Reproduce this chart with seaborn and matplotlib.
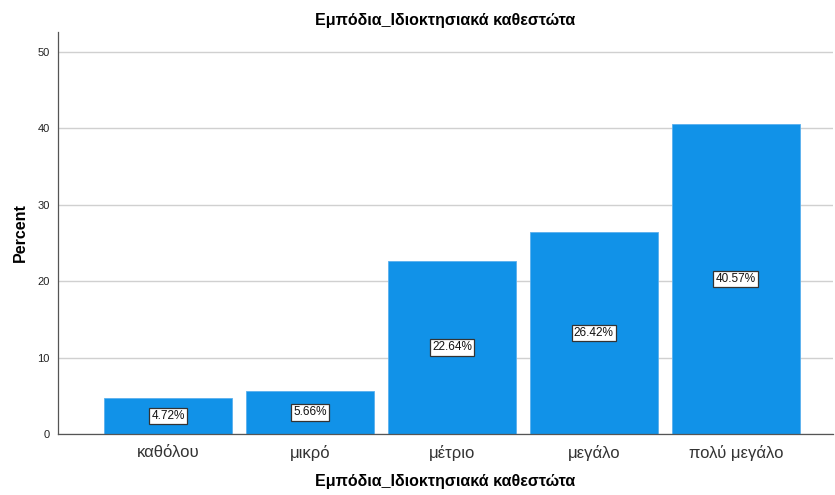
import matplotlib
matplotlib.use("Agg")
import matplotlib.pyplot as plt
import seaborn as sns
import pandas as pd

categories = ["καθόλου", "μικρό", "μέτριο", "μεγάλο", "πολύ μεγάλο"]
percents = [4.72, 5.66, 22.64, 26.42, 40.57]
title = "Εμπόδια_Ιδιοκτησιακά καθεστώτα"
yticks = [0, 10, 20, 30, 40, 50]

sns.set_style("white")
plt.rcParams['font.family'] = ['Liberation Sans', 'DejaVu Sans']
plt.rcParams['text.color'] = 'black'
plt.rcParams['axes.labelcolor'] = 'black'

df = pd.DataFrame({"cat": categories, "pct": percents})

fig = plt.figure(figsize=(8.35, 4.95), dpi=100)
ax = fig.add_axes([58/835, 61/495, (833-58)/835, 402/495])

sns.barplot(data=df, x="cat", y="pct", color="#1192E8", saturation=1, width=0.905, ax=ax,
            zorder=2, edgecolor="#5AB0EE", linewidth=0.6)

ax.set_ylim(0, 52.6)
ax.set_xlim(-0.775, 4.685)
ax.set_yticks(yticks)
ax.tick_params(axis='y', labelsize=8, length=0, pad=6, colors="#222222")
ax.tick_params(axis='x', labelsize=12, length=0, pad=8, colors="#333333")
ax.yaxis.grid(True, color="#D0D0D0", linewidth=1, zorder=0)
ax.set_axisbelow(True)
for s in ["top", "right"]:
    ax.spines[s].set_visible(False)
for s in ["left", "bottom"]:
    ax.spines[s].set_color("#555555")
    ax.spines[s].set_linewidth(0.9)

for i, v in enumerate(percents):
    ax.text(i, v / 2, f"{v:.2f}%", ha="center", va="center", fontsize=8.5, color="#111111", zorder=5,
            bbox=dict(boxstyle="square,pad=0.2", facecolor="white", edgecolor="#333333", linewidth=0.9))

ax.set_title(title, fontsize=11.5, fontweight="bold", pad=5, color="black")
ax.set_xlabel(title, fontsize=11.5, fontweight="bold", labelpad=9)
ax.set_ylabel("Percent", fontsize=11.5, fontweight="bold", labelpad=7)

fig.savefig("out.png", dpi=100)
